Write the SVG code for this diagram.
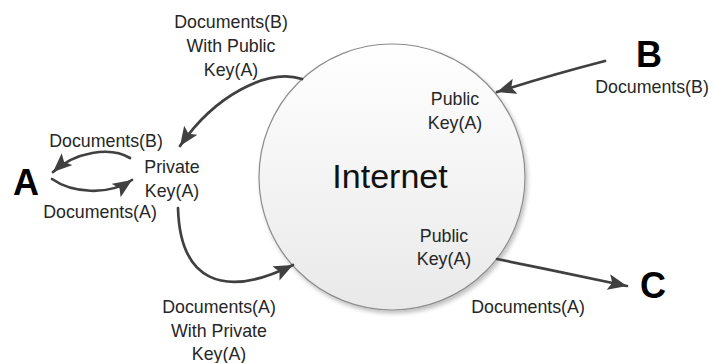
<svg xmlns="http://www.w3.org/2000/svg" width="713" height="363" viewBox="0 0 713 363">
  <style>
    .lbl { font-family: "Liberation Sans", Arial, sans-serif; font-size: 17.8px; fill: #262626; text-anchor: middle; }
    .big { font-family: "Liberation Sans", Arial, sans-serif; font-weight: bold; font-size: 36px; fill: #000; text-anchor: middle; }
    .net { font-family: "Liberation Sans", Arial, sans-serif; font-size: 34px; fill: #111; text-anchor: middle; }
    .conn { fill: none; stroke: #404040; stroke-width: 2.7; stroke-linecap: round; marker-end: url(#head); }
  </style>
  <defs>
    <linearGradient id="globeFill" x1="0" y1="0" x2="0" y2="1">
      <stop offset="0" stop-color="#ffffff"/>
      <stop offset="1" stop-color="#e9e9e9"/>
    </linearGradient>
    <filter id="shadow" x="-10%" y="-10%" width="125%" height="125%">
      <feGaussianBlur in="SourceAlpha" stdDeviation="2"/>
      <feOffset dx="2" dy="3" result="b"/>
      <feComponentTransfer><feFuncA type="linear" slope="0.25"/></feComponentTransfer>
      <feMerge><feMergeNode/><feMergeNode in="SourceGraphic"/></feMerge>
    </filter>
    <marker id="head" markerUnits="userSpaceOnUse" markerWidth="22" markerHeight="18" refX="19" refY="8" orient="auto">
      <path d="M0,0 L19,8 L0,16 L4,8 z" fill="#404040"/>
    </marker>
  </defs>

  <!-- Internet cloud -->
  <g id="internet">
    <circle cx="392" cy="177" r="133" fill="url(#globeFill)" stroke="#8c8c8c" stroke-width="1.2" filter="url(#shadow)"/>
    <text class="net" x="390" y="188">Internet</text>
    <text class="lbl" x="455" y="105">Public</text>
    <text class="lbl" x="455" y="129">Key(A)</text>
    <text class="lbl" x="444" y="242">Public</text>
    <text class="lbl" x="444" y="265">Key(A)</text>
  </g>

  <g id="nodeA">
    <text class="big" x="26" y="195">A</text>
  </g>
  <g id="nodeB">
    <text class="big" x="649" y="67">B</text>
    <text class="lbl" x="652" y="93">Documents(B)</text>
  </g>
  <g id="nodeC">
    <text class="big" x="653" y="298">C</text>
  </g>
  <g id="privateKey">
    <text class="lbl" x="172" y="173">Private</text>
    <text class="lbl" x="172" y="197">Key(A)</text>
  </g>

  <!-- connectors -->
  <g id="connectors">
    <path class="conn" d="M605,61 C570,70 535,80 497,92"/>
    <path class="conn" d="M302,79 C268,68 215,95 180,146"/>
    <path class="conn" d="M130,158 C110,146 75,152 53,172"/>
    <path class="conn" d="M52,179 C72,193 108,196 132,180"/>
    <path class="conn" d="M178,208 C180,280 222,300 293,265"/>
    <path class="conn" d="M497,259 C540,268 590,278 627,286"/>
  </g>

  <!-- connector labels -->
  <g id="labels">
    <text class="lbl" x="231" y="28">Documents(B)</text>
    <text class="lbl" x="231" y="52">With Public</text>
    <text class="lbl" x="231" y="76">Key(A)</text>
    <text class="lbl" x="106" y="147">Documents(B)</text>
    <text class="lbl" x="100" y="218">Documents(A)</text>
    <text class="lbl" x="219" y="313">Documents(A)</text>
    <text class="lbl" x="219" y="337">With Private</text>
    <text class="lbl" x="219" y="360">Key(A)</text>
    <text class="lbl" x="528" y="313">Documents(A)</text>
  </g>
</svg>
